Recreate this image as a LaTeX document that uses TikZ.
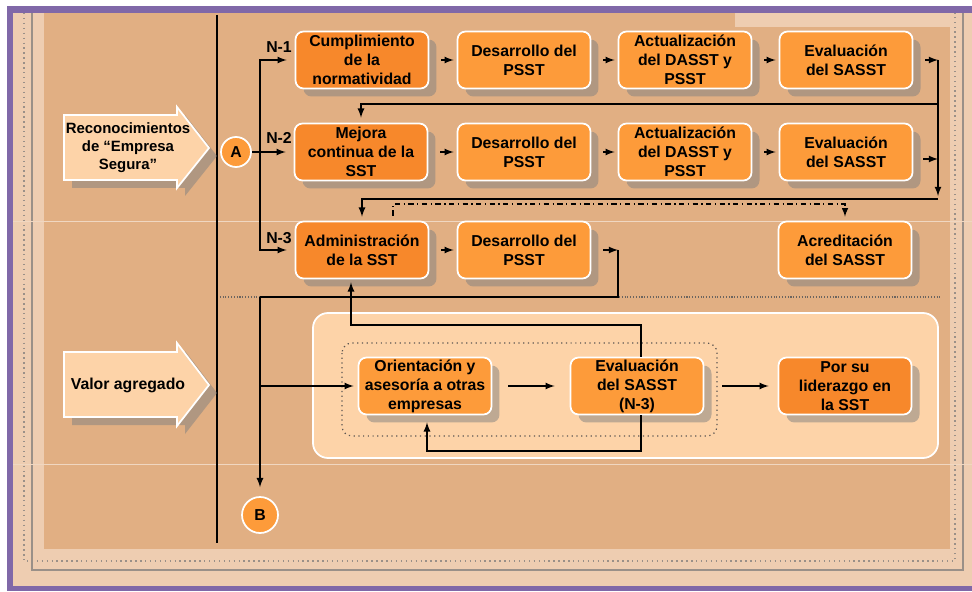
\documentclass[tikz,border=0pt]{standalone}
\usepackage{fontspec}
\setmainfont{Liberation Sans}
\usepackage{tikz}
\usetikzlibrary{calc}
\usetikzlibrary{shadows}
\definecolor{morado}{HTML}{8068A8}
\definecolor{marco}{HTML}{EECDB1}
\definecolor{fondo}{HTML}{E1AF83}
\definecolor{naranja}{HTML}{FD9B3A}
\definecolor{naranjaosc}{HTML}{F7882B}
\definecolor{durazno}{HTML}{FDD3A8}
\definecolor{gris}{HTML}{9A9088}

\begin{document}
\begin{tikzpicture}[x=0.02cm,y=-0.02cm,>=latex,
  sombra/.style={drop shadow={shadow xshift=0.16cm,shadow yshift=-0.16cm,fill=gray,opacity=0.5}},
  caja/.style={draw=white,line width=1pt,fill=naranja,rounded corners=0.16cm,minimum width=2.66cm,minimum height=1.14cm,inner xsep=2pt,inner ysep=0.5pt,align=center,font=\fontsize{9}{10.8}\selectfont\bfseries,sombra},
  cajaosc/.style={caja,fill=naranjaosc},
  circulo/.style={circle,draw=white,line width=1pt,fill=naranja,minimum size=0.6cm,inner sep=0pt,font=\fontsize{9}{10.8}\selectfont\bfseries},
  flechona/.style={draw=white,line width=1pt,fill=durazno,sombra},
  rotulo/.style={font=\fontsize{9}{10.8}\selectfont\bfseries,inner sep=0pt},
  con/.style={line width=0.8pt}]
\useasboundingbox (0,0) rectangle (972,591);
\fill[white] (0,0) rectangle (972,591);
\fill[morado] (7,6) rectangle (972,591);
\fill[marco] (13,13) rectangle (972,586);
\fill[fondo] (44,13) rectangle (950,549);
\fill[marco] (735,13) rectangle (950,27);
\draw[gris,dotted,line width=0.8pt] (24,13) -- (24,561) -- (955,561) -- (955,13);
\draw[gris,line width=1.2pt] (32,13) -- (32,570) -- (963,570) -- (963,13);
\draw[fondo!50!white,line width=0.5pt] (13,221) -- (972,221) (13,464) -- (972,464);
\draw[gris!70!black,densely dotted,line width=0.6pt] (217,297) -- (940,297);
\draw[line width=1pt] (217,15) -- (217,543);

\draw[flechona] (64,115) -- (177,115) -- (177,107) -- (209,148) -- (177,188) -- (177,180) -- (64,180) -- cycle;
\draw[flechona] (64,352) -- (177,352) -- (177,343) -- (209,385) -- (177,426) -- (177,417) -- (64,417) -- cycle;
\node[rotulo,align=center,font=\fontsize{8.5}{10.2}\selectfont\bfseries] (rec) at (128,148) {Reconocimientos\\de “Empresa\\Segura”};
\node[rotulo] (val) at (128,385) {Valor agregado};

\draw[white,fill=durazno,line width=1pt,rounded corners=0.3cm] (313,313) rectangle (938,458);
\draw[gris!60!black,dotted,line width=0.7pt,rounded corners=0.2cm] (342,343) rectangle (717,436);

\node[cajaosc] (c1) at (362,60) {Cumplimiento\\de la\\normatividad};
\node[caja] (d1) at (524,60) {Desarrollo del\\PSST};
\node[caja] (a1) at (685,60) {Actualización\\del DASST y\\PSST};
\node[caja] (e1) at (846,60) {Evaluación\\del SASST};
\node[cajaosc] (c2) at (361,152) {Mejora\\continua de la\\SST};
\node[caja] (d2) at (524,152) {Desarrollo del\\PSST};
\node[caja] (a2) at (685,152) {Actualización\\del DASST y\\PSST};
\node[caja] (e2) at (846,152) {Evaluación\\del SASST};
\node[cajaosc] (c3) at (362,250) {Administración\\de la SST};
\node[caja] (d3) at (524,250) {Desarrollo del\\PSST};
\node[caja] (acr) at (845,250) {Acreditación\\del SASST};
\node[caja] (ori) at (425,386) {Orientación y\\asesoría a otras\\empresas};
\node[caja] (ev3) at (637,386) {Evaluación\\del SASST\\(N-3)};
\node[cajaosc] (lid) at (845,386) {Por su\\liderazgo en\\la SST};

\node[circulo] (A) at (236,152) {A};
\node[circulo,minimum size=0.72cm] (B) at (260,515) {B};
\node[rotulo] (n1) at (279,47) {N-1};
\node[rotulo] (n2) at (279,138) {N-2};
\node[rotulo] (n3) at (279,238) {N-3};

\coordinate (ramaA) at (260,152);
\draw[con] (A) -- (ramaA);
\draw[con,->,shorten >=0.16cm] (ramaA) |- (c1.west);
\draw[con,->,shorten >=0.16cm] (ramaA) -- (c2.west);
\draw[con,->,shorten >=0.16cm] (ramaA) |- (c3.west);

\draw[con,->,shorten <=0.24cm,shorten >=0.06cm] (c1.east) -- (d1.west);
\draw[con,->,shorten <=0.24cm,shorten >=0.06cm] (d1.east) -- (a1.west);
\draw[con,->,shorten <=0.24cm,shorten >=0.06cm] (a1.east) -- (e1.west);
\draw[con,->,shorten <=0.24cm,shorten >=0.06cm] (c2.east) -- (d2.west);
\draw[con,->,shorten <=0.24cm,shorten >=0.06cm] (d2.east) -- (a2.west);
\draw[con,->,shorten <=0.24cm,shorten >=0.06cm] (a2.east) -- (e2.west);
\draw[con,->,shorten <=0.24cm,shorten >=0.06cm] (c3.east) -- (d3.west);

\coordinate (der1) at (938,60);
\coordinate (cruce) at (938,104);
\coordinate (der15) at (938,159);
\coordinate (der2) at (938,199);
\draw[con,->,shorten <=0.24cm] (e1.east) -- (der1);
\draw[con,->,shorten >=0.06cm] (der1) -- (der2);
\draw[con,->,shorten >=0.1cm] (cruce) -| (c2.north);
\draw[con,->,shorten <=0.2cm] ($(e2.east)+(0,7)$) -- (der15);
\draw[con,->,shorten >=0.08cm] (der2) -| (c3.north);

\coordinate (punto) at (393,204);
\draw[line width=0.7pt,dash dot,->,shorten >=0.08cm] ($(c3.north)+(31,-5)$) -- (punto) -| (acr.north);

\coordinate (esq) at (618,250);
\coordinate (bajo) at (260,297);
\coordinate (ramaB) at (260,386);
\draw[con,->,shorten <=0.24cm] (d3.east) -- (esq);
\draw[con] (esq) |- (bajo);
\draw[con,->,shorten >=0.18cm] (bajo) -- (B.north);
\draw[con,->,shorten >=0.08cm] (ramaB) -- (ori.west);

\coordinate (vuelta) at (351,325);
\coordinate (retorno) at (427,451);
\draw[con,->,shorten >=0.06cm] ($(ev3.north)+(4,0)$) |- (vuelta) -- (vuelta |- c3.south);
\draw[con,->,shorten >=0.14cm] ($(ev3.south)+(4,0)$) |- (retorno) -- (retorno |- ori.south);
\draw[con,->,shorten <=0.32cm,shorten >=0.3cm] (ori.east) -- (ev3.west);
\draw[con,->,shorten <=0.36cm,shorten >=0.18cm] (ev3.east) -- (lid.west);
\end{tikzpicture}
\end{document}
